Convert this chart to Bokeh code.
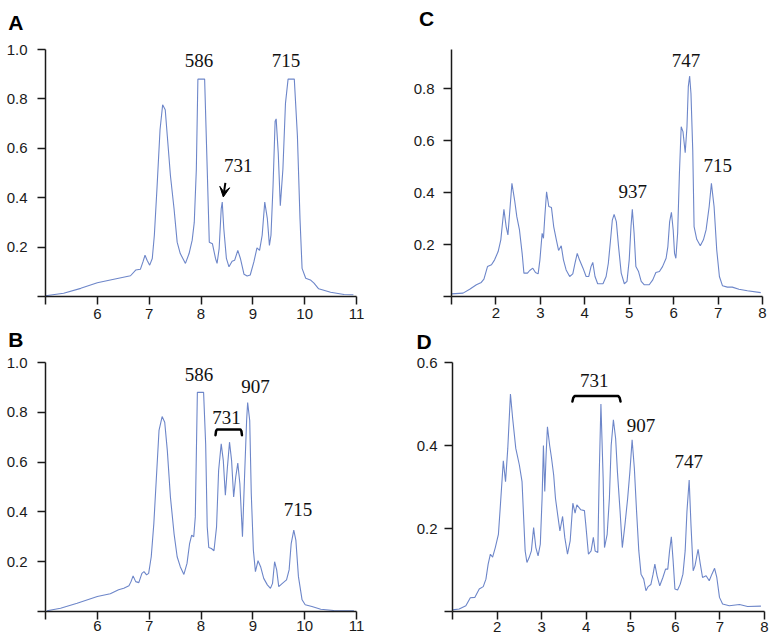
from bokeh.plotting import figure
from bokeh.layouts import column, row
from bokeh.models import Range1d, FixedTicker, NumeralTickFormatter, Label, Arrow, VeeHead
from bokeh.embed import file_html
from bokeh.resources import INLINE

# ---------------- data ----------------
A_x = [5.0, 5.35, 5.68, 6.0, 6.25, 6.64, 6.74, 6.83, 6.88, 6.92, 6.96, 7.01, 7.06, 7.10, 7.15, 7.21, 7.26, 7.31, 7.35, 7.41,
       7.48, 7.54, 7.60, 7.70, 7.77, 7.83, 7.87, 7.91, 7.94, 8.07, 8.12, 8.16, 8.22, 8.28, 8.31, 8.35, 8.39, 8.41, 8.44, 8.49,
       8.54, 8.60, 8.65, 8.71, 8.76, 8.83, 8.89, 8.95, 9.02, 9.08, 9.13, 9.18, 9.23, 9.28, 9.32, 9.35, 9.39, 9.43, 9.45, 9.49,
       9.53, 9.58, 9.63, 9.68, 9.80, 9.86, 9.91, 9.95, 10.02, 10.11, 10.18, 10.27, 10.5, 10.76, 10.94]
A_y = [0.003, 0.013, 0.033, 0.056, 0.067, 0.084, 0.107, 0.11, 0.14, 0.167, 0.147, 0.127, 0.154, 0.248, 0.435, 0.676, 0.776,
       0.756, 0.65, 0.49, 0.355, 0.22, 0.174, 0.134, 0.174, 0.228, 0.30, 0.515, 0.88, 0.88, 0.515, 0.22, 0.214, 0.154, 0.134,
       0.194, 0.355, 0.382, 0.274, 0.154, 0.12, 0.143, 0.147, 0.187, 0.154, 0.09, 0.083, 0.087, 0.14, 0.197, 0.187, 0.248,
       0.382, 0.315, 0.207, 0.248, 0.448, 0.71, 0.719, 0.582, 0.368, 0.515, 0.783, 0.88, 0.88, 0.65, 0.315, 0.114, 0.074,
       0.067, 0.054, 0.031, 0.017, 0.008, 0.007]

B_x = [5.03, 5.29, 5.61, 6.0, 6.25, 6.41, 6.51, 6.61, 6.65, 6.69, 6.74, 6.80, 6.86, 6.90, 6.95, 6.99, 7.04, 7.09, 7.14, 7.19,
       7.25, 7.30, 7.35, 7.41, 7.48, 7.54, 7.60, 7.67, 7.73, 7.78, 7.82, 7.86, 7.89, 7.93, 8.05, 8.09, 8.12, 8.15, 8.20, 8.25,
       8.30, 8.34, 8.39, 8.43, 8.47, 8.51, 8.55, 8.59, 8.63, 8.67, 8.71, 8.75, 8.80, 8.84, 8.88, 8.90, 8.94, 8.97, 9.01, 9.05,
       9.10, 9.15, 9.21, 9.28, 9.34, 9.38, 9.42, 9.46, 9.50, 9.57, 9.65, 9.70, 9.74, 9.79, 9.83, 9.88, 9.95, 10.01, 10.14,
       10.31, 10.56, 10.95]
B_y = [0.003, 0.013, 0.033, 0.06, 0.071, 0.087, 0.093, 0.103, 0.12, 0.143, 0.12, 0.116, 0.153, 0.16, 0.147, 0.153, 0.22,
       0.353, 0.54, 0.727, 0.783, 0.76, 0.647, 0.46, 0.313, 0.22, 0.18, 0.149, 0.193, 0.273, 0.307, 0.30, 0.38, 0.88, 0.88,
       0.673, 0.34, 0.257, 0.253, 0.244, 0.34, 0.567, 0.673, 0.607, 0.467, 0.58, 0.68, 0.607, 0.46, 0.54, 0.596, 0.513, 0.30,
       0.54, 0.767, 0.839, 0.767, 0.473, 0.247, 0.16, 0.204, 0.18, 0.133, 0.107, 0.093, 0.113, 0.20, 0.167, 0.10, 0.113,
       0.127, 0.167, 0.273, 0.327, 0.287, 0.14, 0.047, 0.027, 0.02, 0.009, 0.004, 0.003]

C_x = [1.0, 1.26, 1.41, 1.56, 1.67, 1.73, 1.81, 1.9, 1.97, 2.05, 2.11, 2.14, 2.18, 2.23, 2.27, 2.32, 2.36, 2.42, 2.47, 2.53,
       2.59, 2.63, 2.71, 2.76, 2.83, 2.89, 2.95, 2.99, 3.04, 3.07, 3.10, 3.14, 3.19, 3.25, 3.30, 3.36, 3.41, 3.47, 3.52, 3.58,
       3.66, 3.73, 3.78, 3.83, 3.88, 3.96, 4.03, 4.09, 4.14, 4.18, 4.23, 4.29, 4.41, 4.48, 4.53, 4.58, 4.62, 4.66, 4.71, 4.76,
       4.82, 4.89, 4.95, 5.0, 5.04, 5.07, 5.11, 5.15, 5.21, 5.27, 5.34, 5.45, 5.53, 5.60, 5.68, 5.75, 5.83, 5.87, 5.91, 5.95,
       5.99, 6.02, 6.05, 6.09, 6.13, 6.17, 6.21, 6.26, 6.30, 6.33, 6.36, 6.39, 6.43, 6.46, 6.52, 6.60, 6.67, 6.73, 6.80, 6.85,
       6.91, 6.97, 7.03, 7.10, 7.21, 7.32, 7.47, 7.66, 7.96]
C_y = [0.01, 0.013, 0.028, 0.045, 0.054, 0.067, 0.115, 0.122, 0.141, 0.173, 0.218, 0.269, 0.335, 0.269, 0.237, 0.346, 0.435,
       0.371, 0.307, 0.256, 0.166, 0.09, 0.09, 0.1, 0.109, 0.092, 0.087, 0.141, 0.243, 0.224, 0.307, 0.403, 0.346, 0.342,
       0.269, 0.218, 0.177, 0.195, 0.141, 0.102, 0.077, 0.087, 0.128, 0.166, 0.141, 0.109, 0.077, 0.077, 0.115, 0.131, 0.077,
       0.049, 0.049, 0.077, 0.128, 0.218, 0.294, 0.316, 0.288, 0.192, 0.09, 0.049, 0.058, 0.141, 0.269, 0.335, 0.243, 0.115,
       0.096, 0.058, 0.045, 0.045, 0.064, 0.092, 0.096, 0.115, 0.147, 0.192, 0.288, 0.324, 0.256, 0.166, 0.147, 0.243, 0.474,
       0.653, 0.634, 0.553, 0.653, 0.807, 0.848, 0.781, 0.563, 0.269, 0.22, 0.195, 0.218, 0.256, 0.346, 0.435, 0.346, 0.179,
       0.077, 0.041, 0.036, 0.036, 0.028, 0.022, 0.015]

D_x = [1.0, 1.15, 1.30, 1.40, 1.50, 1.60, 1.69, 1.75, 1.80, 1.85, 1.90, 1.96, 2.03, 2.07, 2.14, 2.19, 2.24, 2.30, 2.35, 2.42,
       2.50, 2.56, 2.59, 2.63, 2.67, 2.72, 2.77, 2.82, 2.87, 2.92, 2.97, 3.01, 3.04, 3.07, 3.10, 3.13, 3.18, 3.22, 3.27, 3.31,
       3.36, 3.41, 3.47, 3.52, 3.58, 3.64, 3.70, 3.75, 3.79, 3.88, 3.96, 3.99, 4.05, 4.11, 4.16, 4.20, 4.26, 4.29, 4.33, 4.38,
       4.41, 4.47, 4.52, 4.56, 4.61, 4.66, 4.70, 4.76, 4.81, 4.87, 4.93, 4.98, 5.03, 5.08, 5.13, 5.18, 5.23, 5.29, 5.34, 5.39,
       5.45, 5.50, 5.54, 5.59, 5.65, 5.72, 5.78, 5.83, 5.87, 5.91, 5.95, 5.99, 6.05, 6.11, 6.17, 6.22, 6.26, 6.31, 6.35, 6.40,
       6.44, 6.51, 6.56, 6.61, 6.69, 6.76, 6.82, 6.88, 6.93, 6.99, 7.06, 7.21, 7.44, 7.62, 7.92]
D_y = [0.004, 0.006, 0.014, 0.033, 0.034, 0.054, 0.06, 0.078, 0.114, 0.138, 0.131, 0.154, 0.186, 0.249, 0.363, 0.313, 0.393,
       0.524, 0.465, 0.393, 0.353, 0.313, 0.241, 0.146, 0.118, 0.13, 0.146, 0.202, 0.154, 0.134, 0.162, 0.273, 0.40, 0.289,
       0.377, 0.445, 0.40, 0.371, 0.329, 0.273, 0.233, 0.194, 0.229, 0.178, 0.138, 0.17, 0.261, 0.237, 0.257, 0.245, 0.243,
       0.21, 0.138, 0.146, 0.179, 0.146, 0.142, 0.321, 0.50, 0.321, 0.154, 0.186, 0.273, 0.40, 0.462, 0.417, 0.337, 0.241,
       0.154, 0.21, 0.273, 0.337, 0.414, 0.345, 0.241, 0.146, 0.09, 0.078, 0.05, 0.06, 0.065, 0.09, 0.114, 0.086, 0.062,
       0.082, 0.102, 0.102, 0.146, 0.18, 0.122, 0.054, 0.052, 0.066, 0.09, 0.146, 0.241, 0.317, 0.21, 0.098, 0.11, 0.15,
       0.114, 0.082, 0.086, 0.074, 0.09, 0.104, 0.082, 0.034, 0.018, 0.014, 0.017, 0.012, 0.013]

X_TICKS_AB = [5, 6, 7, 8, 9, 10, 11]
X_TICKS_CD = [1, 2, 3, 4, 5, 6, 7, 8]
Y_TICKS_AB = [0, 0.2, 0.4, 0.6, 0.8, 1.0]
Y_TICKS_C = [0, 0.2, 0.4, 0.6, 0.8]
Y_TICKS_D = [0, 0.2, 0.4, 0.6]

# peak annotations: (text, x, y)
PEAKS_A = [("586", 7.96, 0.955), ("715", 9.64, 0.955), ("731", 8.72, 0.53)]
PEAKS_B = [("586", 7.96, 0.953), ("907", 9.05, 0.903), ("731", 8.49, 0.781), ("715", 9.87, 0.408)]
PEAKS_C = [("937", 5.08, 0.403), ("747", 6.28, 0.909), ("715", 6.99, 0.504)]
PEAKS_D = [("731", 4.18, 0.556), ("907", 5.23, 0.449), ("747", 6.30, 0.361)]

BRACKET_B_X = [8.28, 8.29, 8.31, 8.76, 8.78, 8.79]
BRACKET_B_Y = [0.708, 0.724, 0.731, 0.731, 0.724, 0.708]
BRACKET_D_X = [3.69, 3.71, 3.74, 4.72, 4.75, 4.77]
BRACKET_D_Y = [0.506, 0.515, 0.519, 0.519, 0.515, 0.506]

LINE_COLOR = "#6d86c9"
INK = "#1a1a1a"


def make_panel(xs, ys, xr, yr, xticks, yticks, w, h, bl, br, bt, bb, x_stand, y_stand,
               letter, letter_xy, peaks):
    p = figure(width=w, height=h, x_range=Range1d(*xr), y_range=Range1d(*yr),
               output_backend="svg", toolbar_location=None,
               min_border_left=bl, min_border_right=br, min_border_top=bt, min_border_bottom=bb)
    p.outline_line_color = None
    p.xgrid.visible = False
    p.ygrid.visible = False
    p.background_fill_color = "white"
    p.border_fill_color = "white"
    p.line(xs, ys, line_color=LINE_COLOR, line_width=1.1)

    for ax in (p.xaxis[0], p.yaxis[0]):
        ax.axis_line_color = INK
        ax.axis_line_width = 1.5
        ax.major_tick_line_color = INK
        ax.major_tick_line_width = 1.5
        ax.major_tick_out = 8
        ax.major_tick_in = 0
        ax.minor_tick_line_color = None
        ax.major_label_text_font = "Liberation Sans"
        ax.major_label_text_font_size = "15px"
        ax.major_label_text_color = INK

    p.xaxis[0].ticker = FixedTicker(ticks=xticks)
    p.xaxis[0].major_label_overrides = {xticks[0]: ""}
    p.xaxis[0].major_label_standoff = x_stand
    p.yaxis[0].ticker = FixedTicker(ticks=yticks)
    p.yaxis[0].formatter = NumeralTickFormatter(format="0.0")
    p.yaxis[0].major_label_overrides = {0: ""}
    p.yaxis[0].major_label_standoff = y_stand

    # panel letter lives in the top side panel so it is not clipped to the frame
    p.add_layout(Label(x=letter_xy[0], y=letter_xy[1], text=letter, text_font="Liberation Sans",
                       text_font_style="bold", text_font_size="21px", text_color="black",
                       text_align="left", text_baseline="alphabetic"), "above")
    for t, x, y in peaks:
        p.add_layout(Label(x=x, y=y, text=t, text_font="Liberation Serif", text_font_size="19px",
                           text_color="#111111", text_align="center", text_baseline="middle"))
    return p


pA = make_panel(A_x, A_y, (5, 11), (0, 1.0), X_TICKS_AB, Y_TICKS_AB, 388, 325, 45, 32, 46, 29, 4, 10,
                "A", (4.28, 1.108), PEAKS_A)
pA.add_layout(Arrow(end=VeeHead(size=10, fill_color="black", line_color="black"),
                    x_start=8.47, y_start=0.46, x_end=8.43, y_end=0.403,
                    line_color="black", line_width=2))

pC = make_panel(C_x, C_y, (1, 8), (0, 0.95), X_TICKS_CD, Y_TICKS_C, 381, 325, 63, 7, 49, 28, 3, 9,
                "C", (0.27, 1.069), PEAKS_C)

pB = make_panel(B_x, B_y, (5, 11), (0, 1.0), X_TICKS_AB, Y_TICKS_AB, 388, 313, 45, 32, 37, 26, 1, 10,
                "B", (4.28, 1.092), PEAKS_B)
pB.line(BRACKET_B_X, BRACKET_B_Y, line_color="black", line_width=2.5, line_join="round", line_cap="round")

pD = make_panel(D_x, D_y, (1, 8), (0, 0.6), X_TICKS_CD, Y_TICKS_D, 381, 313, 64, 5, 35, 27, 2, 7,
                "D", (0.19, 0.650), PEAKS_D)
pD.line(BRACKET_D_X, BRACKET_D_Y, line_color="black", line_width=2.5, line_join="round", line_cap="round")

layout = column(row(pA, pC), row(pB, pD))

with open("out.html", "w") as f:
    f.write(file_html(layout, INLINE))
